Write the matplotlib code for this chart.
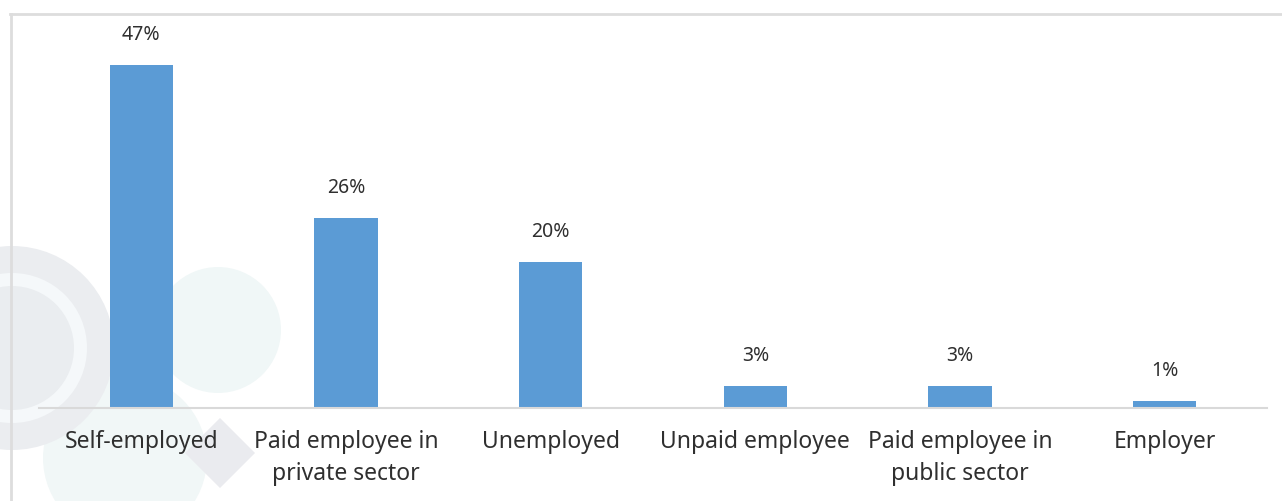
import matplotlib.pyplot as plt
from matplotlib.patches import Circle, Polygon

# --- data ---
categories = ["Self-employed", "Paid employee in\nprivate sector", "Unemployed",
              "Unpaid employee", "Paid employee in\npublic sector", "Employer"]
shares = [47, 26, 20, 3, 3, 1]

BAR_COLOR = "#5b9bd5"
TEXT_COLOR = "#2f2f2f"
W, H = 1282, 501

plt.rcParams['font.family'] = ['Noto Sans', 'DejaVu Sans']

fig = plt.figure(figsize=(W / 100, H / 100), dpi=100)
fig.patch.set_facecolor("white")

# background layer in pixel coordinates (soft decorative shapes + frame)
bg = fig.add_axes([0, 0, 1, 1], zorder=0)
bg.set_xlim(0, W)
bg.set_ylim(H, 0)
bg.axis("off")
bg.add_patch(Circle((125, 458), 82, color="#f1f7f7", lw=0))
bg.add_patch(Circle((12, 348), 102, color="#ebedf0", lw=0))
bg.add_patch(Circle((12, 348), 75, color="#f5f8fa", lw=0))
bg.add_patch(Circle((12, 348), 62, color="#eaedf0", lw=0))
bg.add_patch(Circle((218, 330), 63, color="#f0f7f7", lw=0))
bg.add_patch(Polygon([(220, 418), (255, 453), (220, 488), (185, 453)],
                     closed=True, color="#eaebef", lw=0))
bg.plot([10, W], [14, 14], color="#dddddd", lw=2)
bg.plot([11, 11], [14, H], color="#dddddd", lw=2)

ax = fig.add_axes([39 / W, 93 / H, (1267 - 39) / W, (408 - 43) / H], zorder=1)
ax.patch.set_alpha(0)

x = range(len(categories))
bars = ax.bar(x, shares, width=0.31, color=BAR_COLOR, zorder=2)
for rect, v in zip(bars, shares):
    ax.text(rect.get_x() + rect.get_width() / 2, v + 4.1, f"{v}%",
            ha="center", va="center", fontsize=14, color=TEXT_COLOR)

ax.set_xlim(-0.5, len(categories) - 0.5)
ax.set_ylim(0, 50)
ax.set_xticks(list(x))
ax.set_xticklabels(categories, fontsize=16.5, color=TEXT_COLOR, linespacing=1.42,
                   va="top")
ax.tick_params(axis="x", length=0, pad=16)
ax.set_yticks([])
for side in ["top", "right", "left"]:
    ax.spines[side].set_visible(False)
ax.spines["bottom"].set_color("#d9d9d9")
ax.spines["bottom"].set_linewidth(1.5)

fig.savefig("out.png", dpi=100, facecolor="white")
